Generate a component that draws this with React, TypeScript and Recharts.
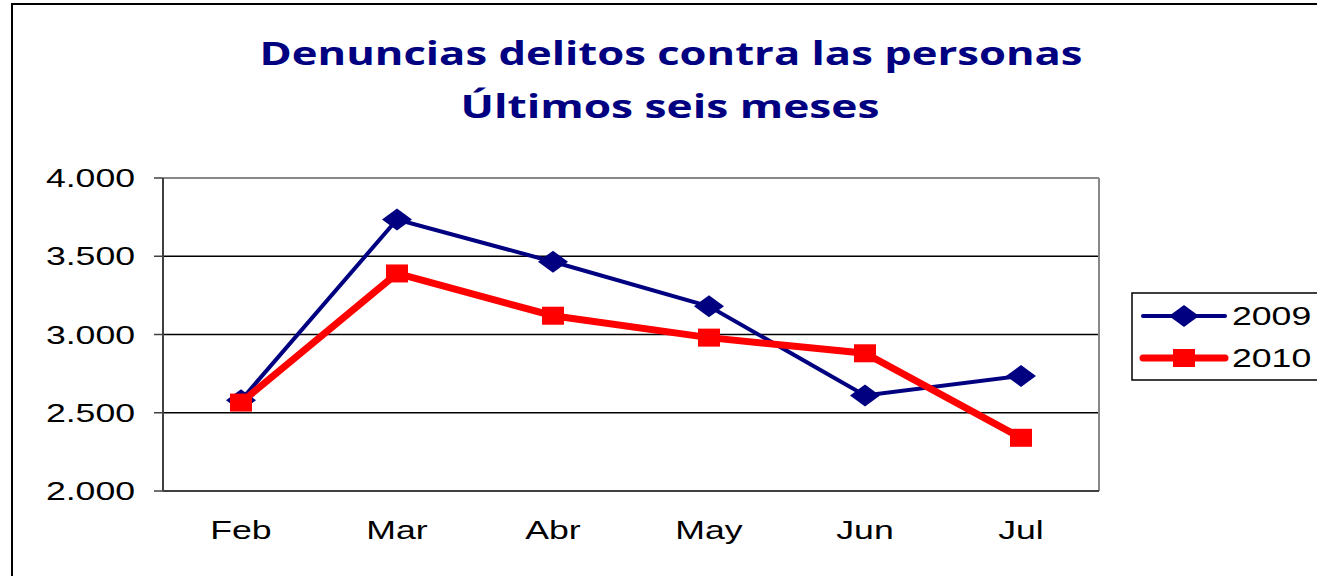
import React from 'react'
import {
  LineChart,
  Line,
  XAxis,
  YAxis,
  CartesianGrid,
  ReferenceLine,
} from 'recharts'

const months = ['Feb', 'Mar', 'Abr', 'May', 'Jun', 'Jul']
const values2009 = [2580, 3735, 3465, 3180, 2610, 2735]
const values2010 = [2565, 3390, 3120, 2980, 2880, 2340]
const yTicks = [2000, 2500, 3000, 3500, 4000]
const seriesNames = ['2009', '2010']

const NAVY = '#000080'
const RED = '#FF0000'
const AXIS_FONT = 'Liberation Sans, Arial, sans-serif'
// the reference text is stretched sideways
const STRETCH = 1.37

const data = months.map((m, i) => ({
  idx: i,
  month: m,
  y2009: values2009[i],
  y2010: values2010[i],
}))

const fmt = (v: number) => String(v).replace(/\B(?=(\d{3})+(?!\d))/g, '.')

const Diamond = (props: any) => {
  const { cx, cy } = props
  if (cx == null || cy == null) return null
  return (
    <polygon
      points={`${cx - 15},${cy} ${cx},${cy - 11} ${cx + 15},${cy} ${cx},${cy + 11}`}
      fill={NAVY}
    />
  )
}

const Square = (props: any) => {
  const { cx, cy } = props
  if (cx == null || cy == null) return null
  return <rect x={cx - 11} y={cy - 9} width={22} height={18} fill={RED} />
}

const Label = ({ x, y, anchor, children }: any) => (
  <text
    transform={`translate(${x},${y}) scale(${STRETCH},1)`}
    textAnchor={anchor}
    fontFamily={AXIS_FONT}
    fontSize={26}
    fill="#000"
  >
    {children}
  </text>
)

const YTick = (props: any) => {
  const { x, y, payload } = props
  return <Label x={x} y={y + 9} anchor="end">{fmt(payload.value)}</Label>
}

const XTick = (props: any) => {
  const { x, y, payload } = props
  return <Label x={x} y={y + 40} anchor="middle">{months[payload.value]}</Label>
}

function LegendBox() {
  return (
    <svg width={186} height={89} style={{ position: 'absolute', left: 1131, top: 292 }}>
      <rect x={1} y={1} width={190} height={87} fill="#fff" stroke="#000" strokeWidth={1.5} />
      <line x1={12} y1={24} x2={94} y2={24} stroke={NAVY} strokeWidth={4} strokeLinecap="round" />
      <polygon points="38,24 53,13 68,24 53,35" fill={NAVY} />
      <Label x={101} y={33} anchor="start">{seriesNames[0]}</Label>
      <line x1={12} y1={66} x2={94} y2={66} stroke={RED} strokeWidth={7} strokeLinecap="round" />
      <rect x={42} y={57} width={22} height={18} fill={RED} />
      <Label x={101} y={75} anchor="start">{seriesNames[1]}</Label>
    </svg>
  )
}

export default function App() {
  const titleStyle = {
    fontFamily: '"Open Sans", Lato, sans-serif',
    fontWeight: 700,
    fontSize: 33,
    fill: NAVY,
  }
  return (
    <div style={{ position: 'absolute', left: 0, top: 0, width: 1317, height: 576, background: '#fff', overflow: 'hidden' }}>
      <div
        style={{
          position: 'absolute',
          left: 11,
          top: 3,
          width: 1340,
          height: 620,
          borderLeft: '2px solid #000',
          borderTop: '2px solid #000',
          boxSizing: 'border-box',
        }}
      />
      <svg width={1317} height={140} style={{ position: 'absolute', left: 0, top: 0 }}>
        <text x={671} y={65} textAnchor="middle" textLength={823} lengthAdjust="spacingAndGlyphs" style={titleStyle}>
          Denuncias delitos contra las personas
        </text>
        <text x={670} y={118} textAnchor="middle" textLength={419} lengthAdjust="spacingAndGlyphs" style={titleStyle}>
          Últimos seis meses
        </text>
      </svg>
      <div style={{ position: 'absolute', left: 0, top: 0 }}>
        <LineChart
          width={1317}
          height={576}
          data={data}
          margin={{ top: 178, right: 218, left: 0, bottom: 0 }}
        >
          <CartesianGrid vertical={false} stroke="#000" strokeWidth={1.5} />
          <XAxis
            xAxisId="main"
            dataKey="idx"
            type="number"
            domain={[-0.5, 5.5]}
            ticks={[0, 1, 2, 3, 4, 5]}
            height={85}
            tickLine={false}
            tickSize={0}
            tickMargin={8}
            axisLine={{ stroke: '#404040', strokeWidth: 2 }}
            tick={<XTick />}
            interval={0}
          />
          <XAxis
            xAxisId="bounds"
            dataKey="idx"
            type="number"
            domain={[-0.5, 5.5]}
            ticks={[-0.5, 0.5, 1.5, 2.5, 3.5, 4.5, 5.5]}
            height={0}
            tick={false}
            tickSize={8}
            tickLine={{ stroke: '#404040', strokeWidth: 2 }}
            axisLine={false}
            interval={0}
          />
          <YAxis
            domain={[2000, 4000]}
            ticks={yTicks}
            width={163}
            tickSize={9}
            tickMargin={19}
            tickLine={{ stroke: '#404040', strokeWidth: 1.5 }}
            axisLine={{ stroke: '#404040', strokeWidth: 2 }}
            tick={<YTick />}
            interval={0}
          />
          <ReferenceLine xAxisId="main" y={4000} stroke="#888" strokeWidth={2} />
          <ReferenceLine xAxisId="main" x={5.5} stroke="#888" strokeWidth={2} />
          <Line
            xAxisId="main"
            type="linear"
            dataKey="y2009"
            name={seriesNames[0]}
            stroke={NAVY}
            strokeWidth={4}
            dot={<Diamond />}
            activeDot={false}
            isAnimationActive={false}
          />
          <Line
            xAxisId="main"
            type="linear"
            dataKey="y2010"
            name={seriesNames[1]}
            stroke={RED}
            strokeWidth={7}
            dot={<Square />}
            activeDot={false}
            isAnimationActive={false}
          />
        </LineChart>
      </div>
      <LegendBox />
    </div>
  )
}
